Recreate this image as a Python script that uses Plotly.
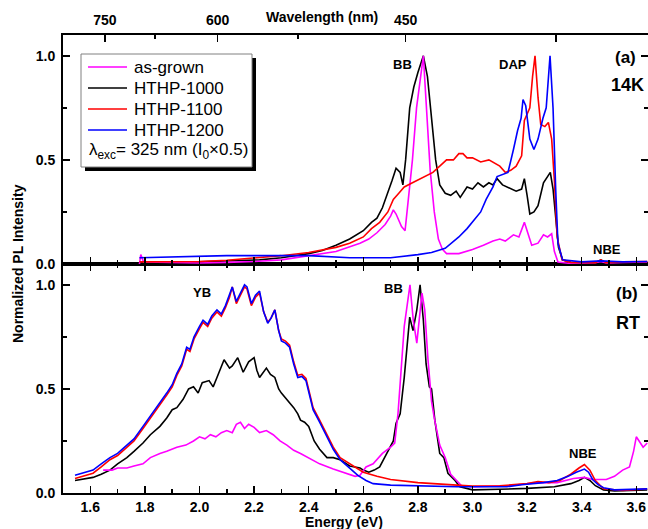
import plotly.graph_objects as go

# ---------------- data: panel (a) 14 K ----------------
e14_asgrown = [1.78, 1.785, 1.795, 1.9, 2.0, 2.1, 2.2, 2.3, 2.4, 2.5, 2.588, 2.62, 2.65, 2.68, 2.70, 2.71, 2.72, 2.74, 2.753,
               2.765, 2.78, 2.795, 2.81, 2.82, 2.83, 2.845, 2.86, 2.875, 2.89, 2.905, 2.95, 3.0, 3.04, 3.075, 3.1, 3.12,
               3.15, 3.17, 3.19, 3.205, 3.217, 3.24, 3.26, 3.275, 3.29, 3.30, 3.313, 3.35, 3.45, 3.47, 3.49, 3.55, 3.64]
i14_asgrown = [0.0, 0.045, 0.01, 0.006, 0.005, 0.008, 0.012, 0.02, 0.04, 0.06, 0.10, 0.12, 0.15, 0.19, 0.23, 0.26, 0.24, 0.18, 0.16,
               0.30, 0.50, 0.75, 0.90, 1.0, 0.78, 0.45, 0.25, 0.12, 0.07, 0.05, 0.05, 0.07, 0.09, 0.11, 0.12, 0.11,
               0.14, 0.13, 0.20, 0.14, 0.09, 0.10, 0.14, 0.13, 0.145, 0.06, 0.01, 0.004, 0.006, 0.012, 0.005, 0.008, 0.01]

e14_h1000 = [1.78, 1.9, 2.0, 2.1, 2.22, 2.3, 2.4, 2.45, 2.5, 2.55, 2.6, 2.63, 2.65, 2.67, 2.69, 2.705, 2.72, 2.735, 2.745,
             2.755, 2.77, 2.785, 2.80, 2.82, 2.835, 2.85, 2.865, 2.88, 2.9, 2.92, 2.94, 2.955, 2.98, 3.0, 3.02, 3.04,
             3.06, 3.075, 3.09, 3.11, 3.14, 3.16, 3.18, 3.19, 3.2, 3.21, 3.225, 3.24, 3.26, 3.285, 3.295, 3.305, 3.315,
             3.33, 3.36, 3.45, 3.47, 3.49, 3.55, 3.64]
i14_h1000 = [0.01, 0.01, 0.01, 0.015, 0.02, 0.03, 0.05, 0.065, 0.09, 0.12, 0.16, 0.20, 0.22, 0.27, 0.34, 0.40, 0.46, 0.44, 0.38,
             0.50, 0.75, 0.85, 0.92, 1.0, 0.90, 0.70, 0.50, 0.38, 0.34, 0.33, 0.35, 0.32, 0.37, 0.36, 0.39, 0.37,
             0.39, 0.38, 0.41, 0.38, 0.36, 0.35, 0.36, 0.41, 0.33, 0.24, 0.25, 0.28, 0.39, 0.44, 0.36, 0.20, 0.08,
             0.02, 0.008, 0.005, 0.02, 0.005, 0.008, 0.01]

e14_h1100 = [1.78, 1.9, 2.0, 2.1, 2.22, 2.3, 2.4, 2.47, 2.5, 2.55, 2.6, 2.63, 2.66, 2.69, 2.71, 2.73, 2.75, 2.78, 2.81,
             2.83, 2.855, 2.88, 2.905, 2.93, 2.95, 2.965, 2.98, 3.0, 3.03, 3.06, 3.075, 3.10, 3.12, 3.14, 3.16, 3.18,
             3.19, 3.21, 3.22, 3.229, 3.24, 3.25, 3.265, 3.278, 3.29, 3.30, 3.31, 3.328, 3.36, 3.45, 3.47, 3.49, 3.55, 3.64]
i14_h1100 = [0.01, 0.01, 0.012, 0.018, 0.03, 0.04, 0.055, 0.07, 0.08, 0.10, 0.13, 0.17, 0.20, 0.25, 0.31, 0.34, 0.37, 0.39, 0.41,
             0.42, 0.44, 0.47, 0.50, 0.50, 0.53, 0.53, 0.51, 0.51, 0.49, 0.50, 0.49, 0.47, 0.44, 0.45, 0.47, 0.52,
             0.69, 0.75, 0.90, 1.0, 0.80, 0.67, 0.66, 0.68, 0.60, 0.40, 0.13, 0.02, 0.008, 0.006, 0.02, 0.006, 0.01, 0.012]

e14_h1200 = [1.78, 1.9, 2.1, 2.22, 2.4, 2.55, 2.7, 2.8, 2.85, 2.9, 2.95, 2.98, 3.0, 3.03, 3.05, 3.075, 3.09, 3.11, 3.13,
             3.15, 3.165, 3.178, 3.185, 3.195, 3.21, 3.225, 3.24, 3.258, 3.27, 3.284, 3.295, 3.305, 3.313, 3.33, 3.4,
             3.47, 3.55, 3.64]
i14_h1200 = [0.03, 0.035, 0.04, 0.04, 0.04, 0.03, 0.03, 0.045, 0.055, 0.075, 0.13, 0.17, 0.20, 0.25, 0.31, 0.37, 0.42, 0.43, 0.44,
             0.55, 0.64, 0.70, 0.79, 0.76, 0.60, 0.55, 0.60, 0.70, 0.75, 1.0, 0.75, 0.35, 0.10, 0.02, 0.01,
             0.015, 0.01, 0.012]

# ---------------- data: panel (b) RT ----------------
ert_asgrown = [1.647, 1.68, 1.70, 1.734, 1.76, 1.793, 1.82, 1.855, 1.88, 1.917, 1.95, 1.978, 2.0, 2.02, 2.04, 2.06, 2.08, 2.10,
               2.12, 2.135, 2.15, 2.165, 2.18, 2.2, 2.22, 2.245, 2.27, 2.295, 2.32, 2.345, 2.37, 2.40, 2.44, 2.49, 2.54,
               2.57, 2.588, 2.61, 2.636, 2.67, 2.70, 2.715, 2.727, 2.74, 2.75, 2.771, 2.783, 2.796, 2.805, 2.815, 2.825,
               2.837, 2.85, 2.86, 2.88, 2.90, 2.92, 2.94, 2.96, 3.0, 3.13, 3.24, 3.31, 3.37, 3.41, 3.44, 3.49, 3.52, 3.55,
               3.575, 3.59, 3.60, 3.61, 3.625, 3.64]
irt_asgrown = [0.11, 0.11, 0.12, 0.12, 0.13, 0.14, 0.17, 0.19, 0.20, 0.22, 0.23, 0.25, 0.27, 0.26, 0.28, 0.27, 0.29, 0.30,
               0.29, 0.33, 0.34, 0.31, 0.33, 0.315, 0.29, 0.30, 0.28, 0.25, 0.23, 0.205, 0.19, 0.17, 0.14, 0.115, 0.095,
               0.08, 0.085, 0.125, 0.14, 0.19, 0.22, 0.24, 0.38, 0.60, 0.80, 1.0, 0.83, 0.72, 0.85, 0.96, 0.88,
               0.64, 0.44, 0.36, 0.23, 0.17, 0.09, 0.06, 0.035, 0.03, 0.035, 0.05, 0.05, 0.07, 0.075, 0.065, 0.065, 0.08, 0.11,
               0.125, 0.20, 0.27, 0.25, 0.22, 0.24]

ert_h1000 = [1.544, 1.58, 1.61, 1.64, 1.672, 1.70, 1.734, 1.76, 1.793, 1.82, 1.855, 1.88, 1.90, 1.917, 1.94, 1.96, 1.978,
             1.995, 2.01, 2.035, 2.05, 2.064, 2.09, 2.11, 2.12, 2.14, 2.16, 2.18, 2.2, 2.21, 2.22, 2.245, 2.26, 2.276,
             2.29, 2.30, 2.32, 2.345, 2.36, 2.37, 2.385, 2.40, 2.42, 2.44, 2.467, 2.49, 2.515, 2.55, 2.588, 2.6, 2.62,
             2.64, 2.66, 2.685, 2.71, 2.72, 2.735, 2.75, 2.77, 2.782, 2.796, 2.808, 2.82, 2.83, 2.842, 2.85, 2.862, 2.88,
             2.895, 2.91, 2.936, 2.954, 3.0, 3.1, 3.2, 3.3, 3.36, 3.39, 3.41, 3.43, 3.45, 3.48, 3.52, 3.64]
irt_h1000 = [0.06, 0.07, 0.075, 0.09, 0.11, 0.14, 0.17, 0.20, 0.24, 0.28, 0.32, 0.36, 0.40, 0.41, 0.45, 0.50, 0.51,
             0.48, 0.53, 0.54, 0.51, 0.555, 0.64, 0.60, 0.61, 0.65, 0.58, 0.63, 0.65, 0.59, 0.555, 0.60, 0.57, 0.555,
             0.50, 0.48, 0.45, 0.41, 0.38, 0.35, 0.34, 0.32, 0.25, 0.21, 0.17, 0.17, 0.16, 0.13, 0.12, 0.11, 0.10,
             0.11, 0.125, 0.19, 0.25, 0.335, 0.38, 0.555, 0.845, 0.78, 0.88, 1.0, 0.83, 0.62, 0.51, 0.50, 0.35, 0.19,
             0.17, 0.095, 0.06, 0.03, 0.015, 0.018, 0.022, 0.03, 0.045, 0.06, 0.075, 0.06, 0.035, 0.015, 0.01, 0.015]

ert_h1100 = [1.544, 1.58, 1.61, 1.64, 1.672, 1.70, 1.734, 1.76, 1.793, 1.82, 1.855, 1.88, 1.90, 1.917, 1.935, 1.953, 1.965,
             1.98, 2.0, 2.013, 2.03, 2.045, 2.064, 2.08, 2.095, 2.11, 2.12, 2.135, 2.15, 2.165, 2.174, 2.19, 2.205, 2.22,
             2.235, 2.25, 2.262, 2.276, 2.29, 2.30, 2.315, 2.33, 2.345, 2.36, 2.375, 2.39, 2.405, 2.416, 2.44, 2.467,
             2.49, 2.515, 2.55, 2.6, 2.65, 2.7, 2.8, 2.9, 3.0, 3.1, 3.2, 3.24, 3.28, 3.32, 3.36, 3.39, 3.41, 3.43, 3.45,
             3.48, 3.55, 3.64]
irt_h1100 = [0.07, 0.085, 0.095, 0.125, 0.16, 0.18, 0.22, 0.25, 0.31, 0.36, 0.42, 0.47, 0.51, 0.565, 0.61, 0.69, 0.68,
             0.74, 0.79, 0.82, 0.80, 0.84, 0.87, 0.85, 0.89, 0.94, 0.99, 0.91, 0.95, 0.99, 0.98, 0.90, 0.94, 0.96,
             0.87, 0.82, 0.84, 0.88, 0.78, 0.74, 0.73, 0.71, 0.63, 0.565, 0.57, 0.55, 0.47, 0.41, 0.35, 0.28,
             0.22, 0.17, 0.14, 0.10, 0.08, 0.065, 0.05, 0.04, 0.033, 0.035, 0.045, 0.055, 0.05, 0.06, 0.09, 0.12, 0.137,
             0.11, 0.06, 0.02, 0.012, 0.02]

ert_h1200 = [1.544, 1.58, 1.61, 1.64, 1.672, 1.70, 1.734, 1.76, 1.793, 1.82, 1.855, 1.88, 1.90, 1.917, 1.935, 1.953, 1.965,
             1.98, 2.0, 2.013, 2.03, 2.045, 2.064, 2.08, 2.095, 2.11, 2.12, 2.135, 2.15, 2.165, 2.174, 2.19, 2.205, 2.22,
             2.235, 2.25, 2.262, 2.276, 2.29, 2.30, 2.315, 2.33, 2.345, 2.36, 2.375, 2.39, 2.405, 2.416, 2.44, 2.467,
             2.49, 2.515, 2.55, 2.58, 2.61, 2.636, 2.7, 2.76, 2.85, 2.943, 3.05, 3.126, 3.18, 3.22, 3.26, 3.31, 3.35,
             3.38, 3.41, 3.425, 3.44, 3.46, 3.48, 3.52, 3.6, 3.64]
irt_h1200 = [0.085, 0.10, 0.11, 0.14, 0.17, 0.19, 0.23, 0.26, 0.32, 0.37, 0.43, 0.48, 0.52, 0.575, 0.62, 0.70, 0.69,
             0.75, 0.80, 0.83, 0.81, 0.85, 0.88, 0.86, 0.90, 0.95, 0.99, 0.92, 0.96, 1.0, 0.99, 0.91, 0.95, 0.97,
             0.87, 0.815, 0.84, 0.88, 0.78, 0.73, 0.72, 0.70, 0.62, 0.555, 0.56, 0.54, 0.46, 0.40, 0.34, 0.27,
             0.21, 0.16, 0.12, 0.085, 0.06, 0.045, 0.038, 0.036, 0.033, 0.03, 0.03, 0.03, 0.04, 0.045, 0.05, 0.06, 0.08,
             0.10, 0.115, 0.10, 0.065, 0.04, 0.025, 0.015, 0.018, 0.02]

series_names = ["as-grown", "HTHP-1000", "HTHP-1100", "HTHP-1200"]
series_colors = ["#ff00ff", "#000000", "#ff0000", "#0000ff"]
energy_ticks = [1.6, 1.8, 2.0, 2.2, 2.4, 2.6, 2.8, 3.0, 3.2, 3.4, 3.6]
energy_minor = [1.5, 1.7, 1.9, 2.1, 2.3, 2.5, 2.7, 2.9, 3.1, 3.3, 3.5]
wl_major = [750, 600, 450, 375]
wl_labels = ["750", "600", "450", " "]
wl_minor = [675, 525]
y_ticks = [0.0, 0.5, 1.0]
y_labels = ["0.0", "0.5", "1.0"]
y_minor = [0.25, 0.75]

# ---------------- figure ----------------
W, H = 648, 529
ML, MR, MT, MB = 63, 0, 35, 36
PW, PH = W - ML - MR, H - MT - MB
XR = [1.5, 1.5 + PW / 273.0]
FONT = "Liberation Sans, Arial, sans-serif"


def px(x):
    return (x - ML) / PW


def py(y):
    return (H - MB - y) / PH


fig = go.Figure()

order = [1, 0, 2, 3]
panel_a = [(e14_asgrown, i14_asgrown), (e14_h1000, i14_h1000), (e14_h1100, i14_h1100), (e14_h1200, i14_h1200)]
panel_b = [(ert_asgrown, irt_asgrown), (ert_h1000, irt_h1000), (ert_h1100, irt_h1100), (ert_h1200, irt_h1200)]
for k in order:
    fig.add_trace(go.Scatter(x=panel_a[k][0], y=panel_a[k][1], mode="lines", name=series_names[k],
                             line=dict(color=series_colors[k], width=1.6), xaxis="x2", yaxis="y2", showlegend=False))
for k in order:
    fig.add_trace(go.Scatter(x=panel_b[k][0], y=panel_b[k][1], mode="lines", name=series_names[k],
                             line=dict(color=series_colors[k], width=1.6), xaxis="x", yaxis="y", showlegend=False))
# carrier for the wavelength axis
fig.add_trace(go.Scatter(x=[None], y=[None], xaxis="x3", yaxis="y2", showlegend=False, hoverinfo="skip"))

tickfont = dict(family=FONT, size=14, color="black", weight="bold")
common_x = dict(range=XR, tickmode="array", tickvals=energy_ticks, ticks="inside", ticklen=7, tickwidth=1.5,
                tickcolor="black", showline=True, linewidth=2, linecolor="black", showgrid=False, zeroline=False,
                minor=dict(tickmode="array", tickvals=energy_minor, ticks="inside", ticklen=4, tickwidth=1.5,
                           tickcolor="black"))
common_y = dict(range=[0, 1.1], tickmode="array", tickvals=y_ticks, ticktext=y_labels, ticks="inside", ticklen=7,
                tickwidth=1.5, tickcolor="black", showline=True, linewidth=2, linecolor="black", showgrid=False,
                zeroline=False, mirror="ticks", tickfont=tickfont, ticklabelstandoff=3,
                minor=dict(tickmode="array", tickvals=y_minor, ticks="inside", ticklen=4, tickwidth=1.5,
                           tickcolor="black"))

wl_e = [1239.84 / w for w in wl_major]
wl_me = [1239.84 / w for w in wl_minor]

fig.update_layout(
    width=W, height=H, margin=dict(l=ML, r=MR, t=MT, b=MB, autoexpand=False),
    paper_bgcolor="white", plot_bgcolor="white",
    xaxis=dict(domain=[0, 1], anchor="y", mirror="ticks", showticklabels=True, tickfont=tickfont,
               ticktext=[f"{v:.1f}" for v in energy_ticks], ticklabelstandoff=0, automargin=False, **common_x),
    xaxis2=dict(domain=[0, 1], anchor="y2", matches="x", showticklabels=False, **common_x),
    xaxis3=dict(overlaying="x2", anchor="y2", side="top", range=XR, tickmode="array", tickvals=wl_e,
                ticktext=wl_labels, ticks="inside", ticklen=7, tickwidth=1.5, tickcolor="black", showline=True,
                linewidth=2, linecolor="black", showgrid=False, zeroline=False, tickfont=tickfont,
                ticklabelstandoff=2, automargin=False,
                minor=dict(tickmode="array", tickvals=wl_me, ticks="inside", ticklen=4, tickwidth=1.5,
                           tickcolor="black")),
    yaxis=dict(domain=[0, 0.5], anchor="x", automargin=False, **common_y),
    yaxis2=dict(domain=[0.5, 1], anchor="x2", automargin=False, **common_y),
)

ann = []
bold = lambda s: dict(family=FONT, size=s, color="black", weight="bold")
# axis titles
ann.append(dict(text="Normalized PL Intensity", x=px(18), y=py(264), xref="paper", yref="paper", textangle=-90,
                showarrow=False, font=bold(14), xanchor="center", yanchor="middle"))
ann.append(dict(text="Energy (eV)", x=px(344), y=py(522), xref="paper", yref="paper", showarrow=False,
                font=bold(14), xanchor="center", yanchor="middle"))
ann.append(dict(text="Wavelength (nm)", x=px(322), y=py(17), xref="paper", yref="paper", showarrow=False,
                font=bold(14), xanchor="center", yanchor="middle"))
# panel labels
for txt, x, y, s, xr, yr in [("BB", 2.745, 0.96, 13, "x2", "y2"), ("DAP", 3.148, 0.96, 13, "x2", "y2"),
                             ("(a)", 3.562, 0.99, 17, "x2", "y2"), ("14K", 3.566, 0.86, 18, "x2", "y2"),
                             ("NBE", 3.493, 0.07, 13, "x2", "y2"),
                             ("YB", 2.009, 0.965, 13, "x", "y"), ("BB", 2.709, 0.98, 13, "x", "y"),
                             ("(b)", 3.566, 0.96, 17, "x", "y"), ("RT", 3.57, 0.816, 18, "x", "y"),
                             ("NBE", 3.405, 0.19, 13, "x", "y")]:
    ann.append(dict(text=txt, x=x, y=y, xref=xr, yref=yr, showarrow=False, font=bold(s),
                    xanchor="center", yanchor="middle"))

# legend (drawn manually)
shapes = []
shapes.append(dict(type="rect", xref="paper", yref="paper", x0=px(85), x1=px(256), y0=py(58), y1=py(171),
                   fillcolor="black", line=dict(width=0), layer="above"))
shapes.append(dict(type="rect", xref="paper", yref="paper", x0=px(81), x1=px(252), y0=py(54), y1=py(167),
                   fillcolor="white", line=dict(color="#808080", width=1), layer="above"))
rows = [67, 88, 109, 130]
for k, ry in enumerate(rows):
    shapes.append(dict(type="line", xref="paper", yref="paper", x0=px(88), x1=px(127), y0=py(ry), y1=py(ry),
                       line=dict(color=series_colors[k], width=1.5), layer="above"))
    ann.append(dict(text=series_names[k], x=px(132), y=py(ry), xref="paper", yref="paper", showarrow=False,
                    font=dict(family=FONT, size=17, color="black"), xanchor="left", yanchor="middle"))
ann.append(dict(text="λ<sub>exc</sub>= 325 nm (I<sub>0</sub>×0.5)", x=px(87), y=py(151), xref="paper",
                yref="paper", showarrow=False, font=dict(family=FONT, size=17, color="black"),
                xanchor="left", yanchor="middle"))

fig.update_layout(annotations=ann, shapes=shapes)
fig.write_html("out.html", config={"displayModeBar": False, "staticPlot": True},
               post_script="document.body.style.margin='0px';document.body.style.overflow='hidden';")
